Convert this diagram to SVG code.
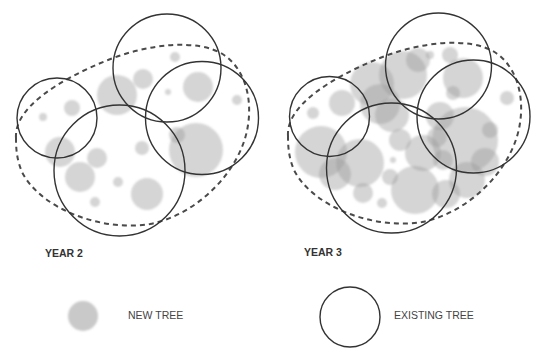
<svg xmlns="http://www.w3.org/2000/svg" width="539" height="353" viewBox="0 0 539 353">
<style>
.nt{fill:#9a9a9a;fill-opacity:0.42;stroke:none}
.ex{fill:none;stroke:#333;stroke-width:1.4}
.bd{fill:none;stroke:#4a4a4a;stroke-width:2;stroke-dasharray:5 4}
.yr{font-family:"Liberation Sans",Arial,sans-serif;font-weight:bold;font-size:10.5px;fill:#333}
.lg{font-family:"Liberation Sans",Arial,sans-serif;font-size:10.5px;fill:#444}
</style>
<defs>
<path id="boundary" d="M 16,138 C 14,108 58,80 108,60 C 148,44 198,38 224,55 C 246,70 252,100 248,125 C 242,168 200,214 150,224 C 100,232 40,208 22,172 C 17,160 16,150 16,138 Z"/>
<filter id="soft" x="-10%" y="-10%" width="120%" height="120%">
<feGaussianBlur stdDeviation="0.9"/>
</filter>
</defs>
<rect width="539" height="353" fill="#fff"/>

<g id="year2">
<g id="year2-new-trees" filter="url(#soft)">
<circle class="nt" cx="117" cy="95" r="20"/>
<circle class="nt" cx="143" cy="79" r="10"/>
<circle class="nt" cx="175" cy="57" r="5"/>
<circle class="nt" cx="198" cy="87" r="15"/>
<circle class="nt" cx="168" cy="92" r="3"/>
<circle class="nt" cx="237" cy="100" r="5"/>
<circle class="nt" cx="72" cy="108" r="8"/>
<circle class="nt" cx="43" cy="117" r="4"/>
<circle class="nt" cx="196" cy="150" r="27"/>
<circle class="nt" cx="177" cy="135" r="8"/>
<circle class="nt" cx="142" cy="148" r="7"/>
<circle class="nt" cx="60" cy="152" r="15"/>
<circle class="nt" cx="97" cy="158" r="10"/>
<circle class="nt" cx="80" cy="177" r="15"/>
<circle class="nt" cx="118" cy="182" r="5"/>
<circle class="nt" cx="147" cy="194" r="16"/>
<circle class="nt" cx="95" cy="202" r="5"/>
</g>
<use href="#boundary" class="bd"/>
<g id="year2-existing-trees">
<circle class="ex" cx="167" cy="68" r="54"/>
<circle class="ex" cx="57" cy="118" r="40"/>
<circle class="ex" cx="202" cy="118" r="56.5"/>
<circle class="ex" cx="119.5" cy="170.5" r="65.5"/>
</g>
<text class="yr" x="45" y="257">YEAR 2</text>
</g>

<g id="year3">
<g id="year3-new-trees" filter="url(#soft)">
<circle class="nt" cx="403" cy="75" r="24"/>
<circle class="nt" cx="372" cy="84" r="22"/>
<circle class="nt" cx="380" cy="104" r="20"/>
<circle class="nt" cx="392" cy="115" r="17"/>
<circle class="nt" cx="418" cy="60" r="12"/>
<circle class="nt" cx="450" cy="55" r="8"/>
<circle class="nt" cx="463" cy="78" r="20"/>
<circle class="nt" cx="453" cy="93" r="7"/>
<circle class="nt" cx="430" cy="55" r="4"/>
<circle class="nt" cx="507" cy="98" r="7"/>
<circle class="nt" cx="342" cy="103" r="13"/>
<circle class="nt" cx="313" cy="113" r="6"/>
<circle class="nt" cx="321" cy="152" r="26"/>
<circle class="nt" cx="335" cy="174" r="16"/>
<circle class="nt" cx="360" cy="163" r="24"/>
<circle class="nt" cx="440" cy="116" r="14"/>
<circle class="nt" cx="465" cy="140" r="33"/>
<circle class="nt" cx="437" cy="137" r="10"/>
<circle class="nt" cx="490" cy="130" r="8"/>
<circle class="nt" cx="485" cy="162" r="14"/>
<circle class="nt" cx="423" cy="153" r="18"/>
<circle class="nt" cx="415" cy="190" r="24"/>
<circle class="nt" cx="467" cy="180" r="18"/>
<circle class="nt" cx="446" cy="194" r="14"/>
<circle class="nt" cx="400" cy="140" r="11"/>
<circle class="nt" cx="390" cy="177" r="8"/>
<circle class="nt" cx="363" cy="193" r="10"/>
<circle class="nt" cx="382" cy="203" r="5"/>
<circle class="nt" cx="393" cy="160" r="3"/>
<circle class="nt" cx="443" cy="160" r="10"/>
</g>
<use href="#boundary" class="bd" transform="translate(272,-2)"/>
<g id="year3-existing-trees">
<circle class="ex" cx="438.5" cy="66" r="53"/>
<circle class="ex" cx="329.5" cy="116.5" r="40"/>
<circle class="ex" cx="473.5" cy="116.5" r="56.5"/>
<circle class="ex" cx="391.5" cy="168" r="65"/>
</g>
<text class="yr" x="304" y="256">YEAR 3</text>
</g>

<g id="legend-new-tree">
<circle cx="83" cy="316" r="15" fill="#c9c9c9" filter="url(#soft)"/>
<text class="lg" x="128" y="319">NEW TREE</text>
</g>
<g id="legend-existing-tree">
<circle class="ex" cx="350" cy="317" r="30" stroke-width="1.6"/>
<text class="lg" x="394" y="319">EXISTING TREE</text>
</g>
</svg>
